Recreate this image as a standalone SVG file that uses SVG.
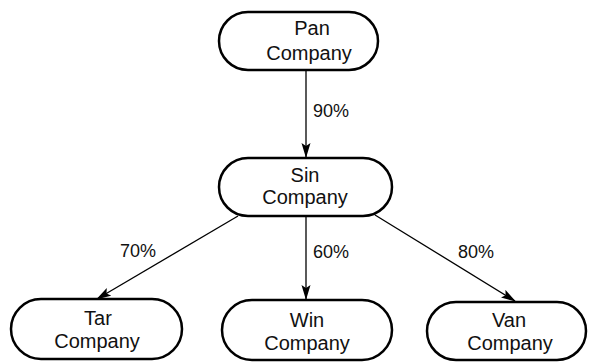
<svg xmlns="http://www.w3.org/2000/svg" width="589" height="363" viewBox="0 0 589 363">
<style>
.box{fill:#fff;stroke:#000;stroke-width:2.5}
.t{font-family:"Liberation Sans","DejaVu Sans",sans-serif;font-size:20px;fill:#111;text-anchor:middle}
.l{font-family:"Liberation Sans","DejaVu Sans",sans-serif;font-size:18px;fill:#111}
.c{stroke:#000;stroke-width:1.3;fill:none;marker-end:url(#ah)}
</style>
<defs>
<marker id="ah" markerWidth="15" markerHeight="10" refX="14" refY="5" orient="auto" markerUnits="userSpaceOnUse">
<path d="M0,0.5 L15,5 L0,9.5 L3,5 Z" fill="#000"/>
</marker>
</defs>
<rect width="589" height="363" fill="#fff"/>
<g id="connectors">
<line class="c" x1="306" y1="71" x2="306" y2="157"/>
<line class="c" x1="238" y1="216" x2="97" y2="299"/>
<line class="c" x1="306" y1="217" x2="306" y2="299"/>
<line class="c" x1="375" y1="215" x2="515" y2="301"/>
<text class="l" x="313" y="117">90%</text>
<text class="l" x="120" y="257">70%</text>
<text class="l" x="313" y="258">60%</text>
<text class="l" x="458" y="258">80%</text>
</g>
<g id="pan">
<rect class="box" x="219" y="12" width="159" height="58" rx="29"/>
<text class="t" x="312" y="35">Pan</text>
<text class="t" x="309" y="60">Company</text>
</g>
<g id="sin">
<rect class="box" x="219" y="158" width="173" height="58" rx="29"/>
<text class="t" x="305" y="182">Sin</text>
<text class="t" x="305" y="204">Company</text>
</g>
<g id="tar">
<rect class="box" x="11" y="299" width="171" height="60" rx="30"/>
<text class="t" x="98" y="325">Tar</text>
<text class="t" x="97" y="348">Company</text>
</g>
<g id="win">
<rect class="box" x="222" y="300" width="170" height="60" rx="30"/>
<text class="t" x="307" y="327">Win</text>
<text class="t" x="307" y="350">Company</text>
</g>
<g id="van">
<rect class="box" x="427" y="302" width="159" height="58" rx="29"/>
<text class="t" x="509" y="327">Van</text>
<text class="t" x="510" y="350">Company</text>
</g>
</svg>
